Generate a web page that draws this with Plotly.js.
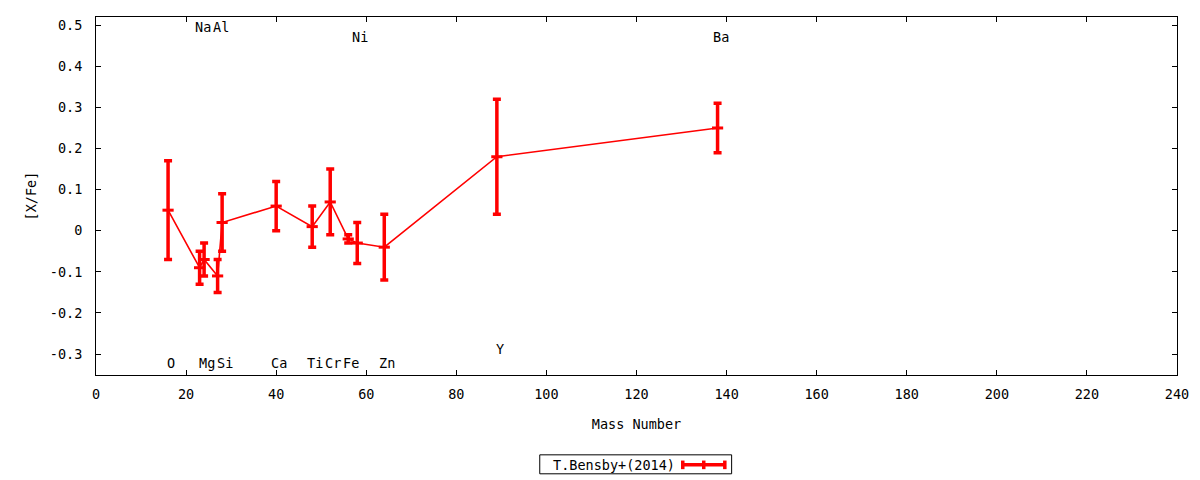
<!DOCTYPE html>
<html>
<head>
<meta charset="utf-8">
<script src="https://cdn.plot.ly/plotly-3.0.1.min.js"></script>
<style>
  html, body { margin: 0; padding: 0; background: #fff; }
  #chart { width: 1200px; height: 480px; }
</style>
</head>
<body>
<div id="chart"></div>
<script>
// abundance pattern, T.Bensby+(2014)
const elements = ['O', 'Na', 'Mg', 'Al', 'Si', 'Ca', 'Ti', 'Cr', 'Fe', 'Ni', 'Zn', 'Y', 'Ba'];
const massNumber = [16, 23, 24, 27, 28, 40, 48, 52, 56, 58, 64, 89, 138];
const xFe = [0.05, -0.09, -0.07, -0.11, 0.02, 0.06, 0.01, 0.07, -0.02, -0.03, -0.04, 0.18, 0.25];
const xFeErr = [0.12, 0.04, 0.04, 0.04, 0.07, 0.06, 0.05, 0.08, 0.01, 0.05, 0.08, 0.14, 0.06];
// where each element name is written (in [X/Fe] units)
const labelY = [-0.322, 0.496, -0.322, 0.496, -0.322, -0.322, -0.322, -0.322, -0.322, 0.471, -0.322, -0.288, 0.471];

const xTicks = [0, 20, 40, 60, 80, 100, 120, 140, 160, 180, 200, 220, 240];
const yTicks = [-0.3, -0.2, -0.1, 0, 0.1, 0.2, 0.3, 0.4, 0.5];
const yTickText = ['-0.3', '-0.2', '-0.1', '0', '0.1', '0.2', '0.3', '0.4', '0.5'];

const RED = '#ff0000';
const FONT = 'DejaVu Sans Mono, monospace';
const FSIZE = 13.5;

const trace = {
  x: massNumber,
  y: xFe,
  type: 'scatter',
  mode: 'lines+markers',
  name: 'T.Bensby+(2014)',
  line: {color: RED, width: 1.6},
  marker: {symbol: 'line-ew', size: 8, color: RED, line: {color: RED, width: 3}},
  error_y: {type: 'data', array: xFeErr, visible: true, color: RED, thickness: 3.5, width: 4},
  showlegend: false
};

const annotations = elements.map((el, i) => ({
  x: massNumber[i],
  y: labelY[i],
  xref: 'x',
  yref: 'y',
  text: el,
  showarrow: false,
  xshift: 3,
  font: {family: FONT, size: FSIZE, color: '#000'}
}));

// gnuplot-style key below the plot: text on the left, sample on the right
annotations.push({
  x: 0.479, y: -0.251, xref: 'paper', yref: 'paper',
  xanchor: 'center', yanchor: 'middle',
  text: 'T.Bensby+(2014)', showarrow: false,
  font: {family: FONT, size: FSIZE, color: '#000'}
});

const shapes = [
  {type: 'rect', xref: 'paper', yref: 'paper', x0: 0.4105, x1: 0.588, y0: -0.223, y1: -0.276,
   line: {color: '#000', width: 1}, fillcolor: 'rgba(0,0,0,0)'},
  {type: 'line', xref: 'paper', yref: 'paper', x0: 0.5428, x1: 0.5817, y0: -0.251, y1: -0.251,
   line: {color: RED, width: 3.5}},
  {type: 'line', xref: 'paper', yref: 'paper', x0: 0.5428, x1: 0.5428, y0: -0.239, y1: -0.263,
   line: {color: RED, width: 3.5}},
  {type: 'line', xref: 'paper', yref: 'paper', x0: 0.5622, x1: 0.5622, y0: -0.239, y1: -0.263,
   line: {color: RED, width: 3.5}},
  {type: 'line', xref: 'paper', yref: 'paper', x0: 0.5817, x1: 0.5817, y0: -0.239, y1: -0.263,
   line: {color: RED, width: 3.5}}
];

const axisCommon = {
  showline: true, linecolor: '#000', linewidth: 1, mirror: 'ticks',
  ticks: 'inside', ticklen: 5, tickcolor: '#000', tickwidth: 1,
  showgrid: false, zeroline: false,
  tickfont: {family: FONT, size: FSIZE, color: '#000'}
};

const layout = {
  width: 1200,
  height: 480,
  margin: {l: 96, r: 23, t: 17, b: 105},
  paper_bgcolor: '#fff',
  plot_bgcolor: '#fff',
  showlegend: false,
  xaxis: Object.assign({}, axisCommon, {
    range: [0, 240],
    tickvals: xTicks,
    ticklabelstandoff: 7,
    title: {text: 'Mass Number', font: {family: FONT, size: FSIZE, color: '#000'}, standoff: 18}
  }),
  yaxis: Object.assign({}, axisCommon, {
    range: [-0.351, 0.52],
    tickvals: yTicks,
    ticktext: yTickText,
    ticklabelstandoff: 10,
    title: {text: '[X/Fe]', font: {family: FONT, size: FSIZE, color: '#000'}, standoff: 10}
  }),
  annotations: annotations,
  shapes: shapes
};

Plotly.newPlot('chart', [trace], layout, {displayModeBar: false, staticPlot: true});
</script>
</body>
</html>
